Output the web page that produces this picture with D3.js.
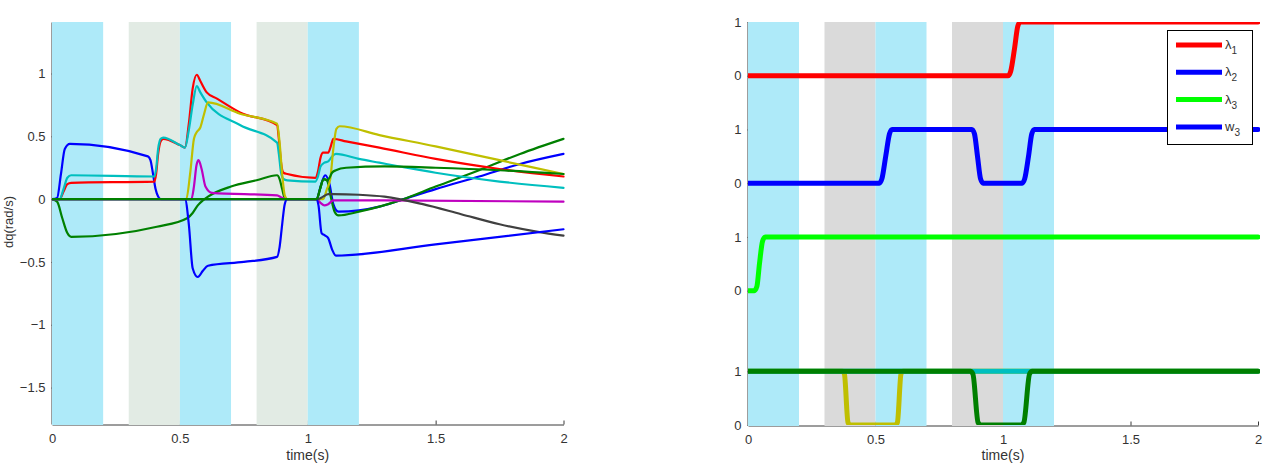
<!DOCTYPE html>
<html><head><meta charset="utf-8">
<script src="https://cdn.jsdelivr.net/npm/d3@7"></script>
<style>
body{margin:0;background:#fff}
svg{display:block}
text{font-family:"Liberation Sans",Arial,Helvetica,sans-serif;fill:#333}
</style>
</head><body>
<svg id="chart" width="1263" height="468"></svg>
<script>
// ---------- shaded phases ----------
const bandStart = [0, 0.3, 0.5, 0.8, 1.0];
const bandEnd   = [0.2, 0.5, 0.7, 1.0, 1.2];
const bandKind  = ["a", "b", "a", "b", "a"];

// ---------- left chart: dq (rad/s) ----------
const xTicks = [0, 0.5, 1, 1.5, 2];
const xTickLabels = ["0", "0.5", "1", "1.5", "2"];
const leftYTicks = [-1.5, -1, -0.5, 0, 0.5, 1];
const leftYTickLabels = ["\u22121.5", "\u22121", "\u22120.5", "0", "0.5", "1"];

const blue1T = [0, 0.02, 0.035, 0.05, 0.07, 0.375, 0.385, 0.395, 0.405, 0.415, 0.425, 1.035, 1.05, 1.068, 1.085, 1.1, 1.12, 1.2, 1.28, 1.36, 1.5, 1.67, 1.83, 2];
const blue1V = [0, 0.01, 0.2, 0.4, 0.44, 0.34, 0.31, 0.2, 0.08, 0.02, 0, 0, 0.1, 0.19, 0.12, -0.04, -0.1, -0.09, -0.06, -0.01, 0.08, 0.18, 0.28, 0.36];

const green1T = [0, 0.02, 0.04, 0.06, 0.075, 0.41, 0.53, 0.55, 0.57, 0.59, 0.61, 0.7, 0.8, 0.88, 0.89, 0.9, 0.91, 0.92, 1.035, 1.048, 1.062, 1.075, 1.09, 1.105, 1.12, 1.2, 1.28, 1.36, 1.5, 1.67, 1.83, 2];
const green1V = [0, -0.02, -0.15, -0.27, -0.3, -0.22, -0.15, -0.11, -0.05, -0.01, 0.02, 0.1, 0.15, 0.19, 0.16, 0.08, 0.01, 0, 0, 0.08, 0.16, 0.15, 0.02, -0.1, -0.13, -0.1, -0.06, -0.01, 0.1, 0.23, 0.36, 0.48];

const redT = [0, 0.03, 0.045, 0.06, 0.075, 0.4, 0.407, 0.415, 0.425, 0.435, 0.5, 0.52, 0.535, 0.55, 0.566, 0.58, 0.605, 0.645, 0.735, 0.88, 0.887, 0.895, 0.905, 0.92, 1.03, 1.04, 1.05, 1.06, 1.08, 1.09, 1.1, 1.15, 1.28, 1.5, 1.75, 2];
const redV = [0, 0, 0.06, 0.12, 0.13, 0.14, 0.2, 0.36, 0.46, 0.48, 0.43, 0.41, 0.6, 0.88, 0.99, 0.94, 0.85, 0.8, 0.69, 0.59, 0.48, 0.3, 0.21, 0.2, 0.17, 0.22, 0.33, 0.37, 0.37, 0.42, 0.48, 0.46, 0.41, 0.32, 0.24, 0.18];

const cyanT = [0, 0.03, 0.045, 0.06, 0.075, 0.4, 0.407, 0.415, 0.425, 0.435, 0.5, 0.52, 0.535, 0.55, 0.566, 0.58, 0.605, 0.735, 0.88, 0.887, 0.895, 0.905, 0.92, 1.03, 1.04, 1.05, 1.065, 1.08, 1.095, 1.11, 1.2, 1.28, 1.36, 1.5, 1.75, 2];
const cyanV = [0, 0, 0.08, 0.17, 0.19, 0.18, 0.24, 0.4, 0.48, 0.49, 0.43, 0.41, 0.55, 0.75, 0.9, 0.85, 0.77, 0.59, 0.45, 0.36, 0.22, 0.16, 0.15, 0.14, 0.18, 0.26, 0.29, 0.3, 0.34, 0.36, 0.32, 0.29, 0.26, 0.21, 0.14, 0.09];

const magentaT = [0, 0.545, 0.555, 0.565, 0.573, 0.585, 0.6, 0.625, 0.88, 0.9, 0.92, 1.035, 1.05, 1.065, 1.08, 1.1, 1.3, 2];
const magentaV = [0, 0, 0.1, 0.27, 0.31, 0.24, 0.1, 0.05, 0.03, 0.01, 0, 0, -0.03, -0.05, -0.04, -0.01, -0.01, -0.02];

const yellowT = [0, 0.525, 0.54, 0.555, 0.565, 0.58, 0.595, 0.61, 0.735, 0.88, 0.89, 0.9, 0.91, 0.92, 1.06, 1.075, 1.088, 1.1, 1.112, 1.125, 1.28, 1.5, 1.75, 2];
const yellowV = [0, 0, 0.2, 0.48, 0.53, 0.57, 0.68, 0.77, 0.68, 0.6, 0.45, 0.2, 0.03, 0, 0, 0.08, 0.16, 0.4, 0.56, 0.58, 0.51, 0.42, 0.31, 0.2];

const greyT = [0, 1.04, 1.06, 1.08, 1.1, 1.2, 1.3, 1.45, 1.6, 1.75, 1.9, 2];
const greyV = [0, 0, 0.02, 0.04, 0.04, 0.035, 0.02, -0.04, -0.12, -0.2, -0.26, -0.29];

const blue2T = [0, 0.52, 0.535, 0.55, 0.57, 0.59, 0.61, 0.75, 0.88, 0.89, 0.9, 0.91, 0.92, 1.033, 1.042, 1.054, 1.068, 1.08, 1.095, 1.11, 1.5, 2];
const blue2V = [0, 0, -0.2, -0.55, -0.62, -0.57, -0.53, -0.5, -0.46, -0.38, -0.2, -0.04, 0, 0, -0.05, -0.27, -0.29, -0.31, -0.4, -0.45, -0.36, -0.24];

const green2T = [0, 1.035, 1.048, 1.062, 1.075, 1.085, 1.095, 1.11, 1.15, 1.3, 1.5, 1.75, 2];
const green2V = [0, 0, 0.08, 0.16, 0.15, 0.17, 0.21, 0.23, 0.25, 0.26, 0.25, 0.23, 0.2];

const leftSeries = [
  {t: blue1T, v: blue1V, color: "#0000ff"},
  {t: green1T, v: green1V, color: "#008000"},
  {t: redT, v: redV, color: "#ff0000"},
  {t: cyanT, v: cyanV, color: "#00bfbf"},
  {t: magentaT, v: magentaV, color: "#bf00bf"},
  {t: yellowT, v: yellowV, color: "#bfbf00"},
  {t: greyT, v: greyV, color: "#404040"},
  {t: blue2T, v: blue2V, color: "#0000ff"},
  {t: green2T, v: green2V, color: "#008000"}
];

// ---------- right chart: switching signals ----------
const rightYTicks = [0, 1, 2.5, 3.5, 4.5, 5.5, 6.5, 7.5];
const rightYTickLabels = ["0", "1", "0", "1", "0", "1", "0", "1"];
const legendNames = ["\u03bb|1", "\u03bb|2", "\u03bb|3", "w|3"];

const lam1T = [0, 1.02, 1.03, 1.045, 1.058, 1.068, 2];
const lam1V = [0, 0, 0.08, 0.5, 0.92, 1, 1];
const lam2T = [0, 0.515, 0.525, 0.54, 0.555, 0.565, 0.878, 0.888, 0.9, 0.912, 0.922, 1.075, 1.085, 1.1, 1.113, 1.123, 2];
const lam2V = [0, 0, 0.08, 0.5, 0.92, 1, 1, 0.92, 0.5, 0.08, 0, 0, 0.08, 0.5, 0.92, 1, 1];
const lam3T = [0, 0.025, 0.035, 0.045, 0.057, 0.068, 2];
const lam3V = [0, 0, 0.08, 0.5, 0.92, 1, 1];
const w3cyanT = [0, 2];
const w3cyanV = [1, 1];
const w3yellowT = [0, 0.37, 0.378, 0.392, 0.4, 0.578, 0.586, 0.6, 0.608, 2];
const w3yellowV = [1, 1, 0.95, 0.05, 0, 0, 0.05, 0.95, 1, 1];
const w3greenT = [0, 0.872, 0.882, 0.902, 0.912, 1.072, 1.082, 1.104, 1.114, 2];
const w3greenV = [1, 1, 0.95, 0.05, 0, 0, 0.05, 0.95, 1, 1];

const trackBase = {lam1: 6.5, lam2: 4.5, lam3: 2.5, w3: 0};
const rightSeries = [
  {t: lam1T, v: lam1V, base: trackBase.lam1, color: "#ff0000"},
  {t: lam2T, v: lam2V, base: trackBase.lam2, color: "#0000ff"},
  {t: lam3T, v: lam3V, base: trackBase.lam3, color: "#00ff00"},
  {t: w3yellowT, v: w3yellowV, base: trackBase.w3, color: "#bfbf00"},
  {t: w3cyanT, v: w3cyanV, base: trackBase.w3, color: "#00bfbf"},
  {t: w3greenT, v: w3greenV, base: trackBase.w3, color: "#007f00"}
];
const legendColors = ["#ff0000", "#0000ff", "#00ff00", "#0000ff"];

// ---------- drawing ----------
const svg = d3.select("#chart");
const axisColor = "#3a3a3a";

function zip(t, v, base) { return t.map((d, i) => ({t: d, v: v[i] + (base || 0)})); }

function panel(opts) {
  const {x0, x1, yTop, yBot, yDomain, yTicks, yLabels, bandColors, series, lineW, id} = opts;
  const x = d3.scaleLinear().domain([0, 2]).range([x0, x1]);
  const y = d3.scaleLinear().domain(yDomain).range([yBot, yTop]);
  const g = svg.append("g");

  // axes (drawn beneath the patches, as in the original)
  const xa = g.append("g").attr("transform", `translate(0,${yBot + 0.5})`)
    .call(d3.axisBottom(x).tickValues(xTicks).tickFormat((d, i) => xTickLabels[i])
      .tickSizeInner(-4).tickSizeOuter(0).tickPadding(9));
  const ya = g.append("g").attr("transform", `translate(${x0 - 0.5},0)`)
    .call(d3.axisLeft(y).tickValues(yTicks).tickFormat((d, i) => yLabels[i])
      .tickSizeInner(-4).tickSizeOuter(0).tickPadding(6));
  [xa, ya].forEach(a => {
    a.select(".domain").attr("stroke", axisColor);
    a.selectAll(".tick line").attr("stroke", axisColor);
    a.selectAll(".tick text").attr("fill", "#333").style("font-size", "13px")
      .style("font-family", '"Liberation Sans",Arial,sans-serif');
  });

  // shaded phases
  g.append("g").selectAll("rect").data(bandStart).join("rect")
    .attr("x", (d) => x(d)).attr("y", yTop)
    .attr("width", (d, i) => x(bandEnd[i]) - x(d))
    .attr("height", yBot + 1 - yTop)
    .attr("fill", (d, i) => bandColors[bandKind[i]]);

  // clip
  svg.append("clipPath").attr("id", id).append("rect")
    .attr("x", x0).attr("y", yTop).attr("width", x1 - x0 + 2).attr("height", yBot - yTop);

  const line = d3.line().x(d => x(d.t)).y(d => y(d.v)).curve(d3.curveMonotoneX);
  g.append("g").attr("clip-path", `url(#${id})`).selectAll("path").data(series).join("path")
    .attr("d", s => line(zip(s.t, s.v, s.base)))
    .attr("fill", "none").attr("stroke", s => s.color)
    .attr("stroke-width", lineW).attr("stroke-linejoin", "round").attr("stroke-linecap", "round");

  g.append("text").attr("x", (x0 + x1) / 2).attr("y", 460).attr("text-anchor", "middle")
    .style("font-size", "14px").text("time(s)");
  return {x, y, g};
}

const left = panel({
  x0: 52, x1: 563.5, yTop: 22, yBot: 424, yDomain: [-1.79, 1.41],
  yTicks: leftYTicks, yLabels: leftYTickLabels,
  bandColors: {a: "#aeeaf9", b: "#e2ebe4"}, series: leftSeries, lineW: 2.2, id: "clipL"
});
svg.append("text").attr("transform", "translate(13,222) rotate(-90)")
  .attr("text-anchor", "middle").style("font-size", "13px").text("dq(rad/s)");

const right = panel({
  x0: 748, x1: 1258, yTop: 22, yBot: 425, yDomain: [0, 7.5],
  yTicks: rightYTicks, yLabels: rightYTickLabels,
  bandColors: {a: "#aeeaf9", b: "#dadada"}, series: rightSeries, lineW: 5, id: "clipR"
});

// legend
const lg = svg.append("g").attr("transform", "translate(1167,30)");
lg.append("rect").attr("x", 0.5).attr("y", 0.5).attr("width", 85).attr("height", 114)
  .attr("fill", "#fff").attr("stroke", "#000").attr("stroke-width", 1);
const rows = lg.selectAll("g.row").data(legendNames).join("g").attr("class", "row")
  .attr("transform", (d, i) => `translate(0,${15 + i * 27.3})`);
rows.append("line").attr("x1", 9).attr("x2", 55).attr("y1", 0).attr("y2", 0)
  .attr("stroke", (d, i) => legendColors[i]).attr("stroke-width", 5);
const lt = rows.append("text").attr("x", 58).attr("y", 4).style("font-size", "13px");
lt.append("tspan").text(d => d.split("|")[0]);
lt.append("tspan").attr("dy", 5).style("font-size", "10px").text(d => d.split("|")[1]);
</script>
</body></html>
